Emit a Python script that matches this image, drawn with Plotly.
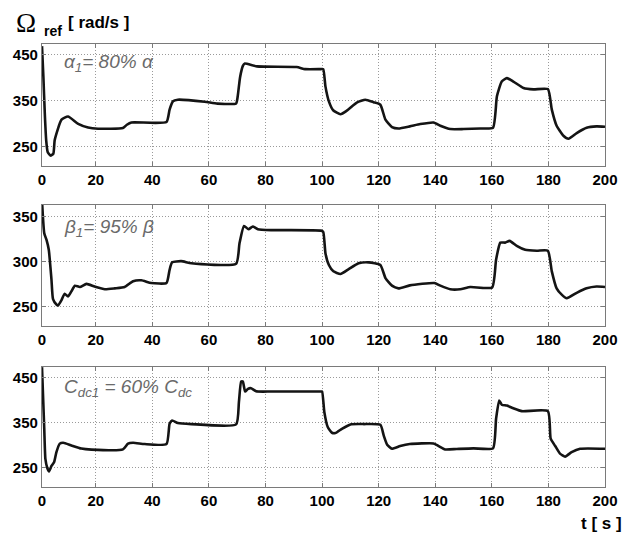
import plotly.graph_objects as go

# ---------------- data ----------------
t_alpha = [1, 1.5, 2, 2.5, 3, 4, 5, 5.5, 7.9, 10.2, 13.8, 17.3, 20.8, 29.6, 31, 32.6, 45, 46.1, 47.3, 49,
           58.5, 63, 69.6, 70.2, 71, 72, 72.6, 77, 91, 94, 99.6, 100.4, 101.2, 102.4, 104, 106.5, 108.8,
           112.4, 115.3, 118.2, 120.6, 122.4, 124.7, 127, 131, 134.7, 139.4, 141.8, 145.3, 150, 155.9,
           160.4, 161.8, 163.5, 165.3, 167.6, 171.2, 174.7, 179.8, 181.2, 182.9, 185.3, 187.1, 190,
           193.5, 197, 200]
w_alpha = [468, 400, 320, 262, 238, 230, 234, 264, 308, 315, 299, 291, 288.5, 290, 297, 302, 303, 330, 348,
           351.5, 347, 343, 343.5, 360, 400, 425, 430, 424, 422.5, 418, 418, 418, 380, 348, 328, 320, 328,
           345.6, 351.5, 346, 340.6, 308, 292, 289, 293.5, 298.5, 302, 295, 287.7, 287.7, 289, 290.5, 359,
           391, 398.5, 391, 377, 374, 374.6, 330, 295, 273, 266.7, 279, 290.5, 293.5, 292.7]

t_beta = [1, 1.8, 2.6, 3.4, 4.35, 4.9, 6.1, 6.7, 7.9, 9, 10.2, 11.4, 12.6, 14.4, 16.7, 19.6, 23.2, 26.7,
          30.2, 33.2, 36.1, 39.6, 45, 46.1, 47, 50.2, 53.8, 69.6, 70.8, 72.4, 74, 75.5, 77.3, 82, 99.6,
          100.4, 101.2, 102.4, 104, 106.5, 109.4, 112.9, 116.5, 120.6, 122.4, 124.7, 127, 131, 139.7,
          141.8, 145.3, 148.8, 152.4, 160.1, 161.5, 163, 164.7, 166.3, 168.8, 171.8, 175.9, 179.8, 181.2,
          182.9, 184.7, 186.5, 190, 193.5, 197, 200]
w_beta = [368, 331.5, 324, 313, 279.6, 258, 252, 251, 257, 264, 261, 266.7, 273, 271.5, 275, 272, 269, 270,
          271.5, 278, 279, 276, 276, 290.7, 299, 300.4, 298, 297.4, 320, 339.6, 336, 339, 336, 335, 334.4,
          333, 309, 296, 289, 286, 291.5, 298, 299, 296, 281.5, 273, 270, 273.3, 276, 273, 269, 269, 271.5,
          271, 302, 321, 321, 323, 317.4, 313, 312, 312, 289, 270, 263, 259, 265, 270, 272, 271.5]

t_cdc = [1, 1.8, 2.2, 2.9, 3.5, 4.35, 5.3, 6.1, 7.3, 8.5, 11.4, 14.9, 18.5, 29.6, 31.4, 33.2, 37.3, 45,
         46.1, 47, 49, 53.8, 69.6, 70.6, 71.4, 72, 72.8, 73.8, 74.9, 76.7, 82, 99.6,
         100, 100.8, 102, 103.5, 104.7, 107, 110, 114.7, 120.6, 121.8, 123, 124.7, 127.6, 131, 139.4,
         141.2, 143.5, 147.6, 153.5, 160.4, 161.5, 162.6, 163.5, 165.3, 167.6, 170.6, 179.8, 180.8,
         182.4, 184.1, 185.9, 188.2, 191.2, 200]
w_cdc = [474, 336, 269, 248, 241, 253, 262, 284, 303, 305, 299, 292, 289.6, 290, 303, 305, 302, 302,
         347.4, 354.8, 349, 346.7, 346, 395.7, 441.8, 441.8, 419.5, 425.5, 427, 420, 419.5, 419.5,
         419.5, 373.4, 340, 327.3, 326.6, 336, 346, 346.7, 345, 321, 300.6, 291.6, 297.6, 302, 303.5,
         297.6, 290, 291, 292.4, 292.4, 358.6, 399.4, 390, 388, 382, 375.6, 375.6, 314, 297.6, 280.5,
         273.8, 284, 291.6, 291.6]

x_ticks = [0, 20, 40, 60, 80, 100, 120, 140, 160, 180, 200]
y_ticks_alpha = [250, 350, 450]
y_ticks_beta = [250, 300, 350]
y_ticks_cdc = [250, 350, 450]
y_range_alpha = [208, 472]
y_range_beta = [228, 363]
y_range_cdc = [206, 475]
x_range = [1, 200]

labels = ["<i>α</i><sub><i>1</i></sub><i>= 80% α</i>",
          "<i>β</i><sub><i>1</i></sub><i>= 95% β</i>",
          "<i>C</i><sub><i>dc1</i></sub><i> = 60% C</i><sub><i>dc</i></sub>"]

# ---------------- layout helpers ----------------
OFF = 8                      # page body margin of the browser
W, H = 631 - OFF, 534 - OFF
L = 42 - OFF
R = W - (605 - OFF)
def py2y(py):
    return 1 - (py - OFF) / H
def px2x(px):
    return (px - 42) / (605 - 42)

panels = [
    (t_alpha, w_alpha, y_range_alpha, y_ticks_alpha, (44.3, 165.7), 431),
    (t_beta, w_beta, y_range_beta, y_ticks_beta, (205, 326), 337),
    (t_cdc, w_cdc, y_range_cdc, y_ticks_cdc, (366.7, 487), 428),
]

FONT = "Liberation Sans, Arial, sans-serif"
fig = go.Figure()
layout = dict(
    width=W, height=H,
    margin=dict(l=L, r=R, t=0, b=0),
    paper_bgcolor="white", plot_bgcolor="white",
    showlegend=False,
    font=dict(family=FONT, color="black"),
)
annotations = []
tick_positions = [1] + x_ticks[1:]
for i, (tt, ww, yr, yt, (top, bot), ylab) in enumerate(panels):
    n = "" if i == 0 else str(i + 1)
    fig.add_trace(go.Scatter(x=tt, y=ww, mode="lines",
                             line=dict(color="#141414", width=2.6, shape="spline", smoothing=0.5),
                             xaxis="x" + n, yaxis="y" + n, hoverinfo="skip"))
    axcommon = dict(showline=True, mirror="ticks", linecolor="#7a7a7a", linewidth=1.2,
                    ticks="inside", ticklen=4, tickcolor="#7a7a7a",
                    showgrid=True, gridcolor="#9a9a9a", gridwidth=1, griddash="1px,2px",
                    zeroline=False,
                    tickfont=dict(family=FONT, size=15, color="black", weight="bold"))
    layout["xaxis" + n] = dict(axcommon, domain=[0, 1], range=x_range, anchor="y" + n,
                               tickmode="array", tickvals=tick_positions,
                               ticktext=[str(v) for v in x_ticks])
    layout["yaxis" + n] = dict(axcommon, domain=[py2y(bot), py2y(top)], range=yr, anchor="x" + n,
                               tickmode="array", tickvals=yt, ticktext=[str(v) for v in yt])
    annotations.append(dict(xref="x" + n, yref="y" + n, x=8.2, y=ylab, xanchor="left", yanchor="middle",
                            text=labels[i], showarrow=False,
                            font=dict(family=FONT, size=19, color="#6a6a6a")))

annotations += [
    dict(xref="paper", yref="paper", x=px2x(14), y=py2y(23), xanchor="left", yanchor="middle",
         text="Ω", showarrow=False, font=dict(family="Liberation Serif, serif", size=27, color="black")),
    dict(xref="paper", yref="paper", x=px2x(42), y=py2y(31), xanchor="left", yanchor="middle",
         text="ref", showarrow=False, font=dict(family=FONT, size=14, color="black", weight="bold")),
    dict(xref="paper", yref="paper", x=px2x(66), y=py2y(23), xanchor="left", yanchor="middle",
         text="[ rad/s ]", showarrow=False, font=dict(family=FONT, size=17, color="black", weight="bold")),
    dict(xref="paper", yref="paper", x=px2x(624), y=py2y(523), xanchor="right", yanchor="middle",
         text="t [ s ]", showarrow=False, font=dict(family=FONT, size=17, color="black", weight="bold")),
]
layout["annotations"] = annotations
fig.update_layout(**layout)
fig.write_html("out.html")
